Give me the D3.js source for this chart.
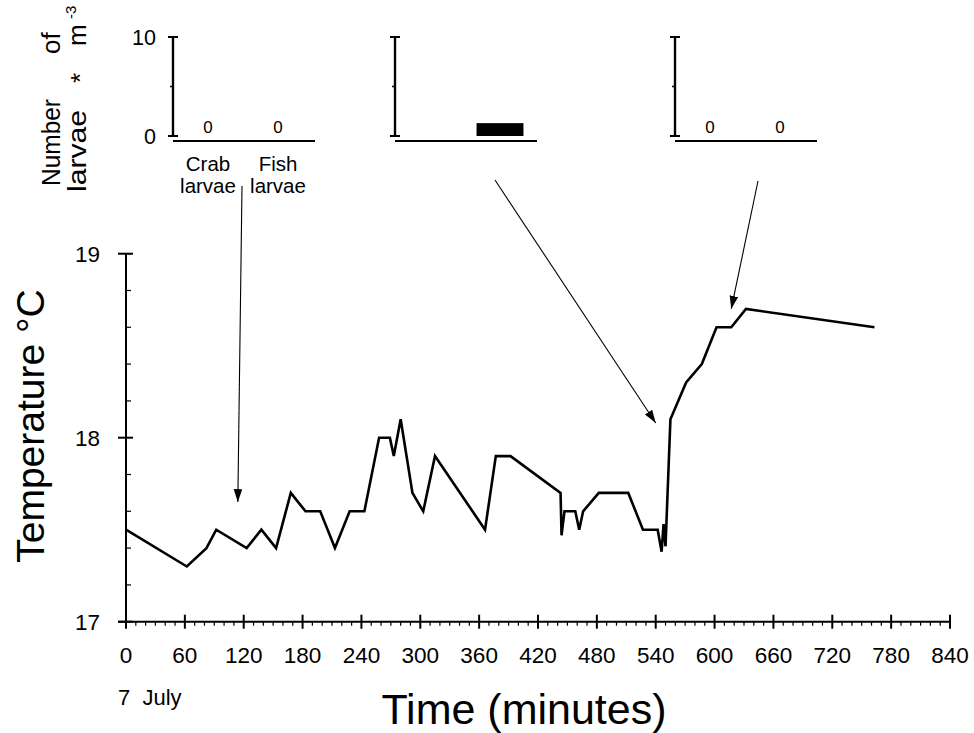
<!DOCTYPE html>
<html>
<head>
<meta charset="utf-8">
<script src="https://cdn.jsdelivr.net/npm/d3@7"></script>
<style>
  html, body { margin: 0; padding: 0; background: #fff; }
  svg { display: block; font-family: "Liberation Sans", Arial, Helvetica, sans-serif; }
  text { fill: #000; }
</style>
</head>
<body>
<div id="chart"></div>
<script>
// Temperature record (minutes after start, 7 July)
const timeMin = [0, 62, 82, 92, 123, 138, 153, 168, 183, 198, 213, 228, 243, 258, 269, 273, 280, 292,
  303, 315, 366, 377, 392, 443, 444, 447, 458, 462, 466, 482, 512, 527, 542, 546, 548, 550,
  555, 571, 587, 602, 617, 632, 763];
const tempC = [17.5, 17.3, 17.4, 17.5, 17.4, 17.5, 17.4, 17.7, 17.6, 17.6, 17.4, 17.6, 17.6, 18.0, 18.0, 17.9, 18.1, 17.7,
  17.6, 17.9, 17.5, 17.9, 17.9, 17.7, 17.47, 17.6, 17.6, 17.5, 17.6, 17.7, 17.7, 17.5, 17.5, 17.38, 17.53, 17.41,
  18.1, 18.3, 18.4, 18.6, 18.6, 18.7, 18.6];

const xTicks = [0, 60, 120, 180, 240, 300, 360, 420, 480, 540, 600, 660, 720, 780, 840];
const yTicks = [17, 18, 19];

// Larvae samples (number * m^-3), one inset per sampling
const larvaeGroups = ['Crab', 'Fish'];
const crabLarvae = [0, null, 0];
const fishLarvae = [0, 1.3, 0];
const insetTicks = [0, 10];

// Arrows: where each sample was taken on the temperature record
const arrowTime = [114, 540, 617];
const arrowTemp = [17.65, 18.08, 18.7];

const W = 974, H = 733;
const svg = d3.select('#chart').append('svg').attr('width', W).attr('height', H);

// ---- main temperature plot ----
const x = d3.scaleLinear().domain([0, 840]).range([126, 950]);
const y = d3.scaleLinear().domain([17, 19]).range([621.7, 253.7]);
const y0 = y(17), x0 = x(0);

const axes = svg.append('g').attr('stroke', '#000').attr('stroke-width', 2).attr('fill', 'none');
axes.append('line').attr('x1', x0 - 8).attr('x2', x(840)).attr('y1', y0).attr('y2', y0);
axes.append('line').attr('x1', x0).attr('x2', x0).attr('y1', y(19)).attr('y2', y0);

// x ticks: major every 60 crossing the axis, minor every 10 below it
axes.selectAll('.xmaj').data(xTicks).join('line')
  .attr('x1', d => x(d)).attr('x2', d => x(d)).attr('y1', y0 - 7).attr('y2', y0 + 7);
axes.selectAll('.xmin').data(d3.range(0, 841, 10).filter(d => d % 60)).join('line')
  .attr('stroke-width', 1.2)
  .attr('x1', d => x(d)).attr('x2', d => x(d)).attr('y1', y0).attr('y2', y0 + 4);

// y ticks: major at whole degrees, minor every 0.2
axes.selectAll('.ymaj').data(yTicks).join('line')
  .attr('x1', x0 - 8).attr('x2', x0 + 7).attr('y1', d => y(d)).attr('y2', d => y(d));
axes.selectAll('.ymin').data(d3.range(17.2, 19, 0.2).filter(d => Math.abs(d - 18) > 0.01)).join('line')
  .attr('stroke-width', 1.2)
  .attr('x1', x0).attr('x2', x0 + 5).attr('y1', d => y(d)).attr('y2', d => y(d));

svg.append('g').selectAll('text').data(xTicks).join('text')
  .attr('x', d => x(d)).attr('y', 663)
  .attr('text-anchor', 'middle').attr('font-size', 22.5)
  .text(d => d);

svg.append('g').selectAll('text').data(yTicks).join('text')
  .attr('x', 100).attr('y', d => y(d)).attr('dy', '0.36em')
  .attr('text-anchor', 'end').attr('font-size', 22.5)
  .text(d => d);

svg.append('text').attr('x', 118).attr('y', 705).attr('font-size', 22)
  .text('7\u00a0\u00a0July');

svg.append('text').attr('x', 524).attr('y', 724).attr('text-anchor', 'middle')
  .attr('font-size', 43).text('Time (minutes)');

svg.append('text').attr('transform', 'translate(44,426) rotate(-90)')
  .attr('text-anchor', 'middle').attr('font-size', 39).text('Temperature °C');

const line = d3.line().x(d => x(d[0])).y(d => y(d[1]));
svg.append('path')
  .datum(d3.zip(timeMin, tempC))
  .attr('d', line)
  .attr('fill', 'none').attr('stroke', '#000').attr('stroke-width', 2.6)
  .attr('stroke-linejoin', 'miter');

// ---- larvae insets ----
const insetX = [173, 395, 675];
const yi = d3.scaleLinear().domain([0, 10]).range([136, 37]);
const xi = d3.scaleBand().domain(larvaeGroups).range([0, 140]).paddingInner(0.33).paddingOuter(0.165);

insetX.forEach((ox, k) => {
  const g = svg.append('g').attr('transform', `translate(${ox},0)`);
  const ax = g.append('g').attr('stroke', '#000').attr('fill', 'none');
  ax.append('line').attr('stroke-width', 2.4).attr('x1', 0).attr('x2', 0).attr('y1', yi(10)).attr('y2', yi(0));
  ax.selectAll('.cap').data(insetTicks).join('line').attr('stroke-width', 2)
    .attr('x1', -5).attr('x2', 5).attr('y1', d => yi(d)).attr('y2', d => yi(d));
  ax.append('line').attr('stroke-width', 1.5).attr('x1', -3).attr('x2', 0).attr('y1', yi(5)).attr('y2', yi(5));
  ax.append('line').attr('stroke-width', 2).attr('x1', 0).attr('x2', 142).attr('y1', 141).attr('y2', 141);

  const vals = [crabLarvae[k], fishLarvae[k]];
  larvaeGroups.forEach((grp, j) => {
    const v = vals[j];
    if (v === null) return;
    if (v > 0) {
      g.append('rect')
        .attr('x', xi(grp)).attr('width', xi.bandwidth())
        .attr('y', yi(v)).attr('height', yi(0) - yi(v))
        .attr('fill', '#000');
    } else {
      g.append('text').attr('x', xi(grp) + xi.bandwidth() / 2).attr('y', 133)
        .attr('text-anchor', 'middle').attr('font-size', 17).text(v);
    }
  });

  if (k === 0) {
    g.selectAll('.tl').data(insetTicks).join('text')
      .attr('x', -17).attr('y', d => yi(d)).attr('dy', '0.36em')
      .attr('text-anchor', 'end').attr('font-size', 21.5).text(d => d);
    larvaeGroups.forEach(grp => {
      const t = g.append('text').attr('text-anchor', 'middle').attr('font-size', 20.5);
      t.append('tspan').attr('x', xi(grp) + xi.bandwidth() / 2).attr('y', 171).text(grp);
      t.append('tspan').attr('x', xi(grp) + xi.bandwidth() / 2).attr('y', 193).text('larvae');
    });
  }
});

// inset y title, two rotated lines
svg.append('text').attr('transform', 'translate(60,186) rotate(-90)').attr('font-size', 26)
  .attr('textLength', 87).attr('lengthAdjust', 'spacingAndGlyphs').text('Number');
svg.append('text').attr('transform', 'translate(60,54) rotate(-90)').attr('font-size', 26)
  .text('of');
svg.append('text').attr('transform', 'translate(86,192) rotate(-90)').attr('font-size', 26)
  .attr('textLength', 82).attr('lengthAdjust', 'spacingAndGlyphs').text('larvae');
svg.append('text').attr('transform', 'translate(89,78) rotate(-90)').attr('font-size', 26)
  .attr('text-anchor', 'middle').text('*');
svg.append('text').attr('transform', 'translate(86,46) rotate(-90)').attr('font-size', 26).text('m');
svg.append('text').attr('transform', 'translate(76,19) rotate(-90)').attr('font-size', 15).text('-3');

// ---- arrows from insets to sample times ----
const arrowTail = [[242, 186], [495, 180], [758, 181]];
svg.append('defs').append('marker')
  .attr('id', 'head').attr('viewBox', '0 0 12 8').attr('refX', 12).attr('refY', 4)
  .attr('markerWidth', 13).attr('markerHeight', 9).attr('markerUnits', 'userSpaceOnUse')
  .attr('orient', 'auto')
  .append('path').attr('d', 'M0,0 L12,4 L0,8 Z').attr('fill', '#000');

svg.append('g').selectAll('line').data(d3.range(arrowTime.length)).join('line')
  .attr('x1', i => arrowTail[i][0]).attr('y1', i => arrowTail[i][1])
  .attr('x2', i => x(arrowTime[i])).attr('y2', i => y(arrowTemp[i]))
  .attr('stroke', '#000').attr('stroke-width', 1.1)
  .attr('marker-end', 'url(#head)');
</script>
</body>
</html>
